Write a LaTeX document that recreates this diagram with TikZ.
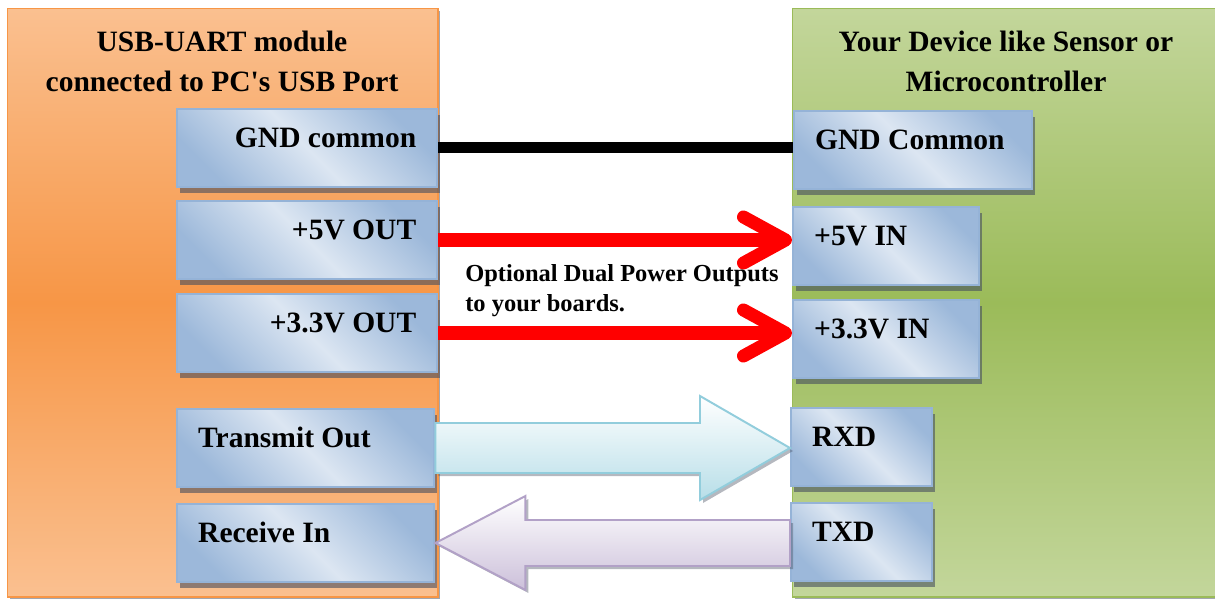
\documentclass[tikz,border=0pt]{standalone}
\usepackage{fontspec}
\setmainfont{Liberation Serif}
\usetikzlibrary{arrows.meta,calc,shadows}
\definecolor{orangemid}{HTML}{F79646}
\definecolor{orangelite}{HTML}{FAC090}
\definecolor{greenmid}{HTML}{9BBB59}
\definecolor{greenlite}{HTML}{C3D69B}
\definecolor{pinlite}{HTML}{DCE6F2}
\definecolor{pindark}{HTML}{95B3D7}
\definecolor{txedge}{HTML}{92CDDC}
\definecolor{txfill}{HTML}{B7DEE8}
\definecolor{rxedge}{HTML}{B2A1C7}
\definecolor{rxfill}{HTML}{CCC0DA}
\definecolor{shadowgrey}{HTML}{464E5F}

\begin{document}
\begin{tikzpicture}[x=0.025cm,y=-0.025cm,
  module/.style={anchor=north west,inner sep=0pt,minimum height=14.7cm,line width=1pt,
    drop shadow={shadow xshift=0.05cm,shadow yshift=-0.05cm,fill=shadowgrey,opacity=0.5}},
  modtitle/.style={align=center,inner sep=0pt,font=\fontsize{21}{28.4}\selectfont\bfseries},
  note/.style={align=left,inner sep=0pt,font=\fontsize{17.4}{21.3}\selectfont\bfseries},
  pinbox/.style={anchor=north west,draw=pindark,line width=1.4pt,
    top color=pindark!90!pinlite,bottom color=pindark!90!pinlite,middle color=pinlite,shading angle=-45,
    inner xsep=0.53cm,inner ysep=0pt,text height=0.96cm,text depth=0.99cm,
    font=\fontsize{21}{25}\selectfont\bfseries,
    drop shadow={shadow xshift=0.075cm,shadow yshift=-0.15cm,fill=shadowgrey,opacity=0.6}},
  pinout/.style={pinbox,text width=5.45cm,align=flush right},
  pinin/.style={pinbox,align=flush left},
  gndwire/.style={line width=0.275cm,black},
  pwrwire/.style={line width=0.325cm,red,-{Straight Barb[length=1.05cm,width=1.15cm,round]}},
  txblock/.style={draw=txedge,line width=1.4pt,top color=white,bottom color=txfill,
    drop shadow={shadow xshift=0.075cm,shadow yshift=-0.075cm,fill=shadowgrey,opacity=0.4}},
  rxblock/.style={draw=rxedge,line width=1.4pt,top color=white,bottom color=rxfill,
    drop shadow={shadow xshift=0.075cm,shadow yshift=-0.075cm,fill=shadowgrey,opacity=0.4}}]

  \clip (0,0) rectangle (1215,599);

  % the two boards
  \node[module,draw=orangemid,top color=orangelite,bottom color=orangelite,middle color=orangemid,
    minimum width=10.75cm] (usb) at (7,8) {};
  \node[module,draw=greenmid,top color=greenlite,bottom color=greenlite,middle color=greenmid,
    minimum width=11cm] (dev) at (792,8) {};
  \node[modtitle] (usbtitle) at (222,61) {USB-UART module\\connected to PC\textquotesingle s USB Port};
  \node[modtitle] (devtitle) at (1006,61) {Your Device like Sensor or\\Microcontroller};

  % pins
  \node[pinout] (gnd) at (176,108) {GND common};
  \node[pinout] (p5) at (176,200) {+5V OUT};
  \node[pinout] (p33) at (176,293) {+3.3V OUT};
  \node[pinin,text width=5.375cm] (tx) at (176,408) {Transmit Out};
  \node[pinin,text width=5.375cm] (rx) at (176,503) {Receive In};
  \node[pinin,text width=4.9cm] (gndin) at (793,110) {GND Common};
  \node[pinin,text width=3.6cm] (p5in) at (792,206) {+5V IN};
  \node[pinin,text width=3.6cm] (p33in) at (792,299) {+3.3V IN};
  \node[pinin,text width=2.475cm] (rxd) at (790,407) {RXD};
  \node[pinin,text width=2.475cm] (txd) at (790,502) {TXD};

  % wires
  \draw[gndwire] (gnd.east) -- (gnd.east -| gndin.west);
  \draw[pwrwire] (p5.east) -- (p5.east -| p5in.west);
  \draw[pwrwire] (p33.east) -- (p33.east -| p33in.west);
  \node[note,anchor=west] (optnote) at (465,291) {Optional Dual Power Outputs\\to your boards.};

  % data lines
  \coordinate (txtip) at (tx.east -| rxd.west);
  \path[txblock] ($(tx.east)+(0,-25)$) -- ($(txtip)+(-90,-25)$) -- ($(txtip)+(-90,-52)$) -- (txtip)
    -- ($(txtip)+(-90,52)$) -- ($(txtip)+(-90,25)$) -- ($(tx.east)+(0,25)$) -- cycle;
  \coordinate (rxtail) at (rx.east -| txd.west);
  \path[rxblock] ($(rxtail)+(0,-23)$) -- ($(rx.east)+(90,-23)$) -- ($(rx.east)+(90,-47)$) -- (rx.east)
    -- ($(rx.east)+(90,47)$) -- ($(rx.east)+(90,23)$) -- ($(rxtail)+(0,23)$) -- cycle;
\end{tikzpicture}
\end{document}
